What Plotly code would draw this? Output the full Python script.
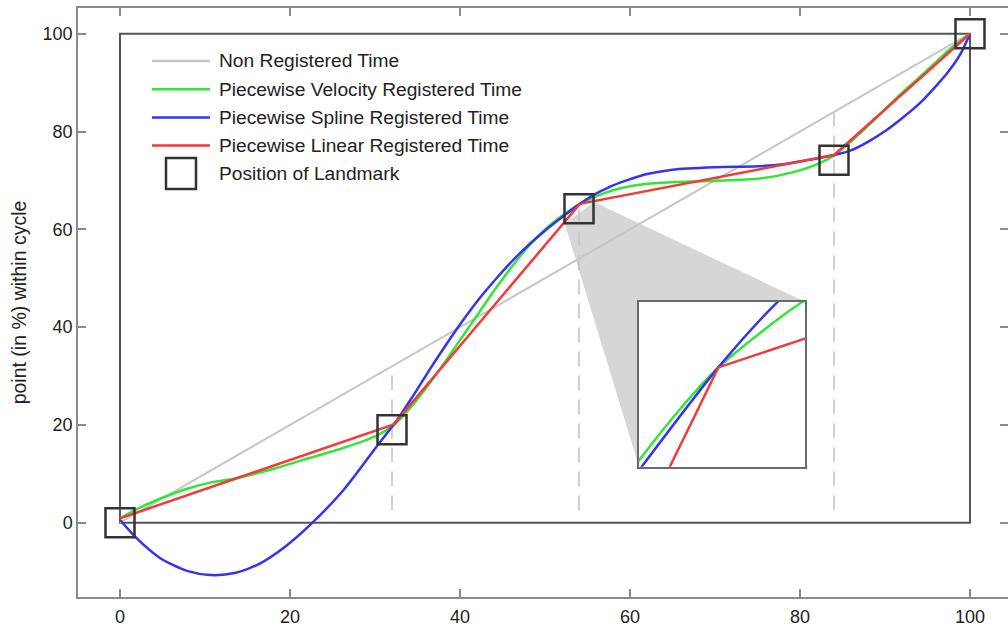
import plotly.graph_objects as go

# ---------------- data ----------------
non_reg_x = [0, 100]
non_reg_y = [0, 100]

green_x = [0, 2, 4.7, 8, 10.6, 13.7, 18, 22.4, 27, 30.2, 32.5, 34.5, 36.5, 38.4, 40.4, 42.4, 44.4, 46.3, 48.2,
           50.2, 51.8, 53, 54.1, 55.3, 56.5, 58, 60, 63.5, 69.4, 75.3, 79, 82.4, 84, 85.7, 88.8, 91.8, 95, 98, 100]
green_y = [0.9, 2.8, 4.9, 7.0, 8.2, 9.1, 11.0, 13.3, 15.7, 17.8, 20.4, 24.2, 28.7, 33.3, 38.35, 43.4, 48.4, 52.8, 56.8,
           60.3, 62.5, 64.0, 65.2, 66.2, 67.1, 68.0, 68.8, 69.5, 69.9, 70.4, 71.6, 73.6, 75.1, 77.5, 82.5, 87.6, 92.6, 97.4, 100]

blue_x = [0, 1.8, 4.7, 8, 10.6, 13.5, 16.5, 19.5, 22.4, 26.3, 30.2, 32.6, 34.5, 36.5, 38.4, 40.4, 42.4, 44.4, 46.3,
          48.2, 50.2, 51.8, 54.1, 55.9, 57.5, 59.6, 62, 65, 70, 75, 78, 81, 84, 85.9, 88, 90.2, 92, 94.1, 96, 97.3, 98.8, 100]
blue_y = [0.6, -2.9, -7.2, -9.9, -10.7, -10.3, -8.3, -4.8, -0.4, 6.7, 15.6, 21.0, 26.0, 31.5, 36.5, 41.5, 46.1, 50.2, 53.8,
          57.0, 60.0, 62.2, 65.2, 67.2, 68.6, 70.0, 71.3, 72.2, 72.7, 72.9, 73.3, 74.2, 75.2, 76.1, 77.9, 80.3, 82.7, 85.8, 89.3, 91.9, 95.6, 100]

red_x = [0, 32.2, 54.1, 84.0, 100]
red_y = [0.9, 20.1, 65.2, 75.2, 100]

landmark_x = [0, 32, 54, 84, 100]
landmark_y = [0, 19, 64.2, 74.1, 100]

tick_vals = [0, 20, 40, 60, 80, 100]
legend_names = ["Non Registered Time", "Piecewise Velocity Registered Time",
                "Piecewise Spline Registered Time", "Piecewise Linear Registered Time",
                "Position of Landmark"]
y_title = "point (in %) within cycle"

# ---------------- style ----------------
FONT = "Liberation Sans, Arial, Helvetica, sans-serif"
C_GREY = "#c6c6c6"
C_GREEN = "#33e633"
C_BLUE = "#3333f2"
C_RED = "#f23a3a"
C_BOX = "#555555"
C_FRAME = "#8a8a8a"
C_SQ = "#333333"
W_LINE = 2.5

W, H = 1008, 626
M_L, M_R, M_T, M_B = 78, 0, 8, 29
X_RANGE = [-4.94, 104.47]
Y_RANGE = [-15.19, 105.26]
DROP_BOTTOM = 2.5
INSET_BOX = (61.06, 11.45, 80.59, 45.19)   # in main data coords
ZOOM_W = 5.0                                 # data units shown in inset
ZOOM_FRAC_X, ZOOM_FRAC_Y = 0.478, 0.602

pw, ph = W - M_L - M_R, H - M_T - M_B


def px2paper(px, py):
    return (px - M_L) / pw, (H - M_B - py) / ph


fig = go.Figure()

# non registered diagonal
fig.add_trace(go.Scatter(x=non_reg_x, y=non_reg_y, mode="lines",
                         line=dict(color=C_GREY, width=2), showlegend=False, hoverinfo="skip"))

# dashed drop lines at interior landmarks
dx, dy = [], []
for lx, ly in zip(landmark_x[1:-1], landmark_y[1:-1]):
    dx += [lx, lx, None]
    dy += [DROP_BOTTOM, max(lx, ly), None]
fig.add_trace(go.Scatter(x=dx, y=dy, mode="lines",
                         line=dict(color=C_GREY, width=1.6, dash="15px,9px"),
                         showlegend=False, hoverinfo="skip"))

curves = [(green_x, green_y, C_GREEN, "spline"),
          (blue_x, blue_y, C_BLUE, "spline"),
          (red_x, red_y, C_RED, "linear")]
for xs, ys, col, shape in curves:
    fig.add_trace(go.Scatter(x=xs, y=ys, mode="lines",
                             line=dict(color=col, width=W_LINE, shape=shape, smoothing=0.8),
                             showlegend=False))

fig.add_trace(go.Scatter(x=landmark_x, y=landmark_y, mode="markers",
                         marker=dict(symbol="square-open", size=29,
                                     line=dict(color=C_SQ, width=2.5), color=C_SQ),
                         showlegend=False))

# ---------------- inset (zoom on middle landmark) ----------------
cx, cy = red_x[2], red_y[2]
ix_range = [cx - ZOOM_FRAC_X * ZOOM_W, cx + (1 - ZOOM_FRAC_X) * ZOOM_W]
iy_range = [cy - ZOOM_FRAC_Y * ZOOM_W, cy + (1 - ZOOM_FRAC_Y) * ZOOM_W]
for xs, ys, col, shape in curves:
    fig.add_trace(go.Scatter(x=xs, y=ys, mode="lines", xaxis="x2", yaxis="y2",
                             line=dict(color=col, width=W_LINE, shape=shape, smoothing=0.8),
                             showlegend=False))

x0b, y0b, x1b, y1b = INSET_BOX
dom_x = [(x0b - X_RANGE[0]) / (X_RANGE[1] - X_RANGE[0]), (x1b - X_RANGE[0]) / (X_RANGE[1] - X_RANGE[0])]
dom_y = [(y0b - Y_RANGE[0]) / (Y_RANGE[1] - Y_RANGE[0]), (y1b - Y_RANGE[0]) / (Y_RANGE[1] - Y_RANGE[0])]

shapes = []
# grey cone from the landmark square to the inset
sqx, sqy = landmark_x[2], landmark_y[2]
hx, hy = 15 / (pw / (X_RANGE[1] - X_RANGE[0])), 15 / (ph / (Y_RANGE[1] - Y_RANGE[0]))
cone = (f"M {sqx - hx * 0.95},{sqy - hy * 0.98} L {sqx + hx},{sqy + hy * 0.45} "
        f"L {x1b},{y1b} L {x0b},{y0b} Z")
shapes.append(dict(type="path", path=cone, xref="x", yref="y", layer="below",
                   fillcolor="#d6d6d6", line=dict(width=0)))
# inner data box
shapes.append(dict(type="rect", xref="x", yref="y", x0=0, y0=0, x1=100, y1=100,
                   line=dict(color=C_BOX, width=2), layer="below"))
# inset white background
shapes.append(dict(type="rect", xref="x2", yref="y2", x0=ix_range[0], x1=ix_range[1],
                   y0=iy_range[0], y1=iy_range[1], fillcolor="white", line=dict(width=0), layer="below"))

# ---------------- manual legend ----------------
annotations = []
leg_rows = [61, 89.3, 117.5, 145.5, 173.5]
leg_cols = [C_GREY, C_GREEN, C_BLUE, C_RED]
for i, name in enumerate(legend_names):
    py = leg_rows[i]
    if i < 4:
        a0 = px2paper(152, py)
        a1 = px2paper(210, py)
        shapes.append(dict(type="line", xref="paper", yref="paper", x0=a0[0], y0=a0[1],
                           x1=a1[0], y1=a1[1], line=dict(color=leg_cols[i], width=2.5)))
    else:
        b0 = px2paper(166, py + 15.5)
        b1 = px2paper(196, py - 15.5)
        shapes.append(dict(type="rect", xref="paper", yref="paper", x0=b0[0], y0=b0[1],
                           x1=b1[0], y1=b1[1], line=dict(color=C_SQ, width=2.5)))
    t = px2paper(217, py)
    annotations.append(dict(text=name, xref="paper", yref="paper", x=t[0], y=t[1],
                            xanchor="left", yanchor="middle", showarrow=False,
                            font=dict(family=FONT, size=19.2, color="#222222")))

axis_common = dict(showline=True, mirror="ticks", linecolor=C_FRAME, linewidth=1.5,
                   ticks="inside", ticklen=8, tickwidth=1.5, tickcolor=C_FRAME,
                   showgrid=False, zeroline=False, automargin=False,
                   tickfont=dict(family=FONT, size=18, color="#222222"))

fig.update_layout(
    width=W, height=H,
    margin=dict(l=M_L, r=M_R, t=M_T, b=M_B, autoexpand=False),
    paper_bgcolor="white", plot_bgcolor="white",
    showlegend=False,
    xaxis=dict(range=X_RANGE, tickvals=tick_vals, domain=[0, 1], ticklabelstandoff=3, **axis_common),
    yaxis=dict(range=Y_RANGE, tickvals=tick_vals, domain=[0, 1],
               title=dict(text=y_title, font=dict(family=FONT, size=19.5, color="#222222"), standoff=11),
               **axis_common),
    xaxis2=dict(domain=dom_x, range=ix_range, anchor="y2", showticklabels=False, ticks="",
                showgrid=False, zeroline=False, showline=True, mirror=True, automargin=False,
                linecolor="#6a6a6a", linewidth=2),
    yaxis2=dict(domain=dom_y, range=iy_range, anchor="x2", showticklabels=False, ticks="",
                showgrid=False, zeroline=False, showline=True, mirror=True, automargin=False,
                linecolor="#6a6a6a", linewidth=2),
    shapes=shapes,
    annotations=annotations,
)

fig.write_html("out.html")
